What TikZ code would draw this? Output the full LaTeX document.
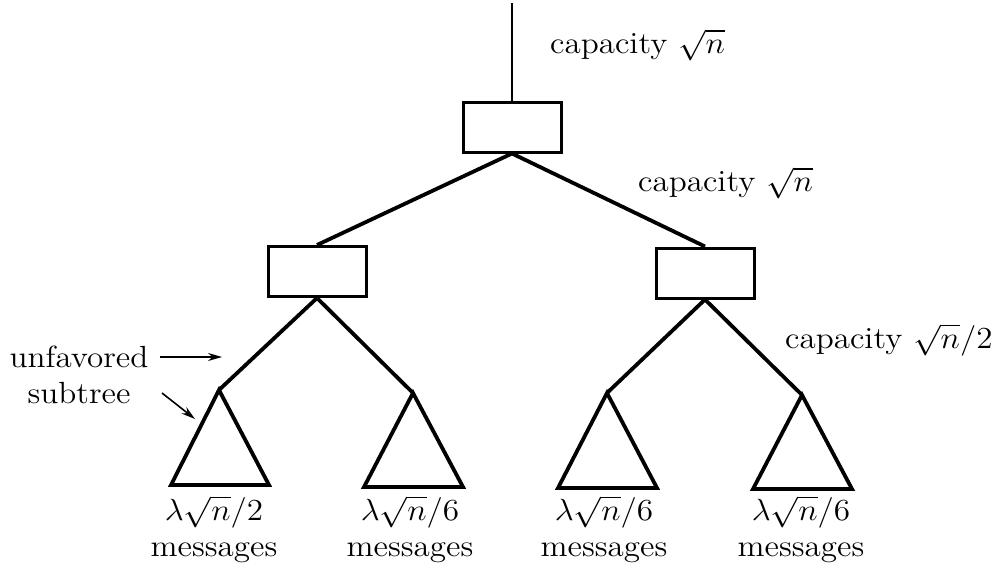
\documentclass[tikz,border=0pt]{standalone}
\usetikzlibrary{arrows.meta}
\newcommand{\widetxt}[1]{\scalebox{2.76}[2.55]{#1}}
\begin{document}
\begin{tikzpicture}[x=1pt,y=-1pt,
  boxnode/.style={draw,line width=3pt,minimum width=98pt,minimum height=50pt,inner sep=0pt},
  edge/.style={line width=3.8pt},
  tri/.style={line width=3.8pt,line join=miter},
  lbl/.style={font=\fontsize{12}{36}\selectfont,inner sep=0pt},
  ptr/.style={line width=1.6pt,-{Stealth[length=14pt,width=8pt]}}]
\useasboundingbox (0,0) rectangle (999,573);
\coordinate (top) at (512,3);
\node[boxnode] (b0) at (512,127) {};
\node[boxnode] (b1) at (317,271.5) {};
\node[boxnode] (b2) at (705,273) {};
\draw[line width=2pt] (top) -- (b0.north);
\draw[edge] (b0.south) -- (b1.north);
\draw[edge] (b0.south) -- (b2.north);
\coordinate (t1) at (219,390);
\coordinate (t2) at (413,393);
\coordinate (t3) at (607,393);
\coordinate (t4) at (802,395);
\draw[edge] (b1.south) -- (t1);
\draw[edge] (b1.south) -- (t2);
\draw[edge] (b2.south) -- (t3);
\draw[edge] (b2.south) -- (t4);
\draw[tri] (t1) -- ++(-48,95) -- ++(98,0) -- cycle;
\draw[tri] (t2) -- ++(-49,94) -- ++(99,0) -- cycle;
\draw[tri] (t3) -- ++(-49,95) -- ++(99,0) -- cycle;
\draw[tri] (t4) -- ++(-49,94) -- ++(99,0) -- cycle;
\node[lbl,anchor=west] (c0) at (550,45) {\widetxt{capacity $\sqrt{n}$}};
\node[lbl,anchor=west] (c1) at (638,183) {\widetxt{capacity $\sqrt{n}$}};
\node[lbl,anchor=west] (c2) at (785,340) {\widetxt{capacity $\sqrt{n}/2$}};
\node[lbl,align=center] (uf) at (79,375) {\widetxt{unfavored}\\\widetxt{subtree}};
\coordinate (a1) at (222,357);
\coordinate (a2) at (195,419);
\draw[ptr] (160,357) -- (a1);
\draw[ptr] (162,393) -- (a2);
\node[lbl,align=center] (m1) at (214,529) {\widetxt{$\lambda\sqrt{n}/2$}\\\widetxt{messages}};
\node[lbl,align=center] (m2) at (410,529) {\widetxt{$\lambda\sqrt{n}/6$}\\\widetxt{messages}};
\node[lbl,align=center] (m3) at (604,529) {\widetxt{$\lambda\sqrt{n}/6$}\\\widetxt{messages}};
\node[lbl,align=center] (m4) at (801,529) {\widetxt{$\lambda\sqrt{n}/6$}\\\widetxt{messages}};
\end{tikzpicture}
\end{document}
